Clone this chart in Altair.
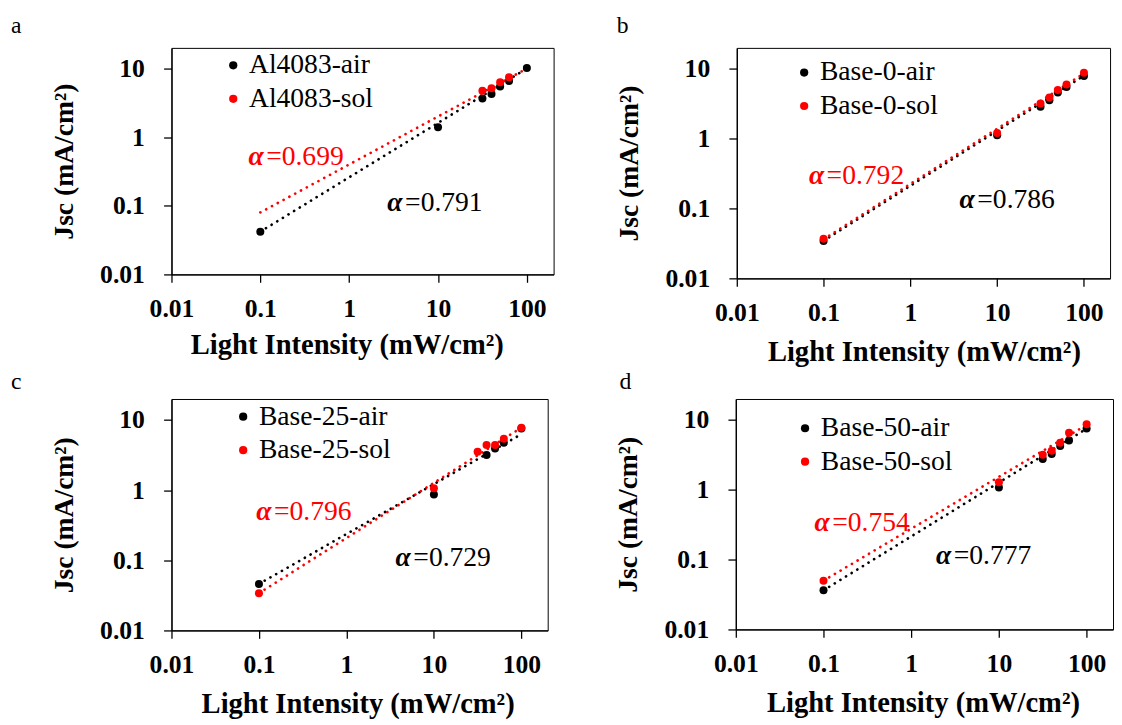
import altair as alt
import pandas as pd

FONT = "Liberation Serif"

# ---------------- data ----------------
intensity = [0.1, 10, 31.6, 40, 50, 63, 100]
fit_x = [0.1, 100]

# panel a
a_names = ["Al4083-air", "Al4083-sol"]
a_air_x = intensity
a_air_y = [0.042, 1.39, 3.65, 4.25, 5.48, 6.6, 10.2]
a_sol_x = [31.6, 40, 50, 63]
a_sol_y = [4.75, 5.18, 6.31, 7.44]
a_fit_air = [0.042, 10.0]
a_fit_sol = [0.08, 10.0]
a_alpha = ["0.791", "0.699"]
a_alpha_pos = [(2.69, 0.109), (0.0734, 0.52)]

# panel b
b_names = ["Base-0-air", "Base-0-sol"]
b_air_x = intensity
b_air_y = [0.0344, 1.12, 2.88, 3.57, 4.58, 5.52, 7.9]
b_sol_x = intensity
b_sol_y = [0.037, 1.21, 3.2, 3.9, 5.0, 6.0, 8.8]
b_fit_air = [0.0345, 8.0]
b_fit_sol = [0.0364, 8.6]
b_alpha = ["0.786", "0.792"]
b_alpha_pos = [(3.69, 0.131), (0.0677, 0.287)]

# panel c
c_names = ["Base-25-air", "Base-25-sol"]
c_air_x = [0.1, 10, 40, 50, 63, 100]
c_air_y = [0.046, 0.87, 3.18, 3.95, 4.74, 7.6]
c_sol_x = intensity
c_sol_y = [0.034, 1.07, 3.54, 4.4, 4.4, 5.4, 7.8]
c_fit_air = [0.046, 6.3]
c_fit_sol = [0.034, 7.8]
c_alpha = ["0.729", "0.796"]
c_alpha_pos = [(3.65, 0.109), (0.093, 0.495)]

# panel d
d_names = ["Base-50-air", "Base-50-sol"]
d_air_x = intensity
d_air_y = [0.0364, 1.08, 2.76, 3.25, 4.26, 5.1, 7.57]
d_sol_x = intensity
d_sol_y = [0.050, 1.28, 3.18, 3.62, 4.74, 6.56, 8.7]
d_fit_air = [0.0364, 7.5]
d_fit_sol = [0.050, 8.5]
d_alpha = ["0.777", "0.754"]
d_alpha_pos = [(1.92, 0.111), (0.079, 0.337)]

x_ticks = [0.01, 0.1, 1, 10, 100]
y_ticks = [0.01, 0.1, 1, 10]
COLORS = ["black", "red"]


def panel(letter, names, air_x, air_y, sol_x, sol_y, fit_air, fit_sol,
          alphas, alpha_pos, w, h, letter_dx, letter_dy, leg_x, leg_y,
          title_x, title_pad):
    pts = pd.DataFrame(
        [{"x": x, "y": y, "series": names[0]} for x, y in zip(air_x, air_y)]
        + [{"x": x, "y": y, "series": names[1]} for x, y in zip(sol_x, sol_y)]
    )
    fits = pd.DataFrame(
        [{"x": x, "y": y, "series": names[0]} for x, y in zip(fit_x, fit_air)]
        + [{"x": x, "y": y, "series": names[1]} for x, y in zip(fit_x, fit_sol)]
    )
    txt = pd.DataFrame([
        {"x": alpha_pos[i][0], "y": alpha_pos[i][1], "val": "=" + alphas[i],
         "c": COLORS[i]} for i in range(2)
    ])

    xe = alt.X("x:Q",
               scale=alt.Scale(type="log", domain=[0.01, 200], nice=False),
               axis=alt.Axis(values=x_ticks, format="~g",
                             title="Light Intensity (mW/cm²)",
                             titleX=title_x, titlePadding=title_pad))
    ye = alt.Y("y:Q",
               scale=alt.Scale(type="log", domain=[0.01, 20], nice=False),
               axis=alt.Axis(values=y_ticks, format="~g",
                             title="Jsc (mA/cm²)", titlePadding=22))

    layers = []
    for i in range(2):
        layers.append(
            alt.Chart(fits[fits.series == names[i]]).mark_line(
                color=COLORS[i], strokeWidth=2.7, strokeCap="round",
                strokeDash=[0.1, 6.6]
            ).encode(x=xe, y=ye)
        )
    layers.append(
        alt.Chart(pts).mark_circle(size=66, opacity=1).encode(
            x=xe, y=ye,
            color=alt.Color("series:N",
                            scale=alt.Scale(domain=names, range=COLORS),
                            sort=names,
                            legend=alt.Legend(
                                orient="none", legendX=leg_x, legendY=leg_y,
                                title=None, symbolType="circle",
                                symbolSize=70, symbolStrokeWidth=0,
                                labelFont=FONT, labelFontSize=28,
                                labelColor="black", labelOffset=2,
                                rowPadding=6, padding=0)),
        )
    )
    layers.append(
        alt.Chart(txt).mark_text(
            align="left", baseline="middle", font=FONT, fontSize=28,
            fontStyle="italic", fontWeight="bold", text="α"
        ).encode(x=xe, y=ye, color=alt.Color("c:N", scale=None))
    )
    layers.append(
        alt.Chart(txt).mark_text(
            align="left", baseline="middle", font=FONT, fontSize=28, dx=18
        ).encode(x=xe, y=ye, text="val:N", color=alt.Color("c:N", scale=None))
    )
    # panel letter (a, b, c, d) above the upper-left corner
    layers.append(
        alt.Chart(pd.DataFrame({"t": [letter]})).mark_text(
            align="left", baseline="alphabetic", font=FONT, fontSize=24,
            color="black"
        ).encode(text="t:N", x=alt.value(letter_dx), y=alt.value(letter_dy))
    )
    return alt.layer(*layers).properties(
        width=w, height=h,
        view=alt.ViewBackground(stroke="black", strokeWidth=1),
    )


pa = panel("a", a_names, a_air_x, a_air_y, a_sol_x, a_sol_y, a_fit_air,
           a_fit_sol, a_alpha, a_alpha_pos, 388, 230, -163, -15, 48.7, 3.7, 178, 10)
pb = panel("b", b_names, b_air_x, b_air_y, b_sol_x, b_sol_y, b_fit_air,
           b_fit_sol, b_alpha, b_alpha_pos, 379, 234, -122, -15, 54.4, 11, 190, 13)
pc = panel("c", c_names, c_air_x, c_air_y, c_sol_x, c_sol_y, c_fit_air,
           c_fit_sol, c_alpha, c_alpha_pos, 382, 235, -163, -10, 58.8, 4, 189, 13)
pd_ = panel("d", d_names, d_air_x, d_air_y, d_sol_x, d_sol_y, d_fit_air,
            d_fit_sol, d_alpha, d_alpha_pos, 383, 234, -118, -10, 56.3, 15.7, 190, 13)

row1 = alt.concat(pa, pb, columns=2, spacing=61).resolve_scale(
    x="independent", y="independent", color="independent")
row2 = alt.concat(pc, pd_, columns=2, spacing=66).resolve_scale(
    x="independent", y="independent", color="independent")

chart = alt.concat(row1, row2, columns=1, spacing=2.5).resolve_scale(
    x="independent", y="independent", color="independent"
).properties(
    padding={"left": 2, "top": 0, "right": 0, "bottom": 0},
    background="white",
).configure_view(
    stroke="black", strokeWidth=1
).configure_axis(
    grid=False, domainColor="black", domainWidth=1.3, tickColor="black",
    tickWidth=1.3, tickSize=8, labelFont=FONT, labelFontSize=26,
    labelFontWeight="bold", labelColor="black", titleFont=FONT,
    titleFontSize=28, titleFontWeight="bold", titleColor="black",
    labelOverlap=False, labelFlush=False,
).configure_axisY(labelPadding=19.5).configure_axisX(
    labelPadding=13.5, titleFontSize=29)

chart.save("out.html", embed_options={"renderer": "svg", "actions": False})
